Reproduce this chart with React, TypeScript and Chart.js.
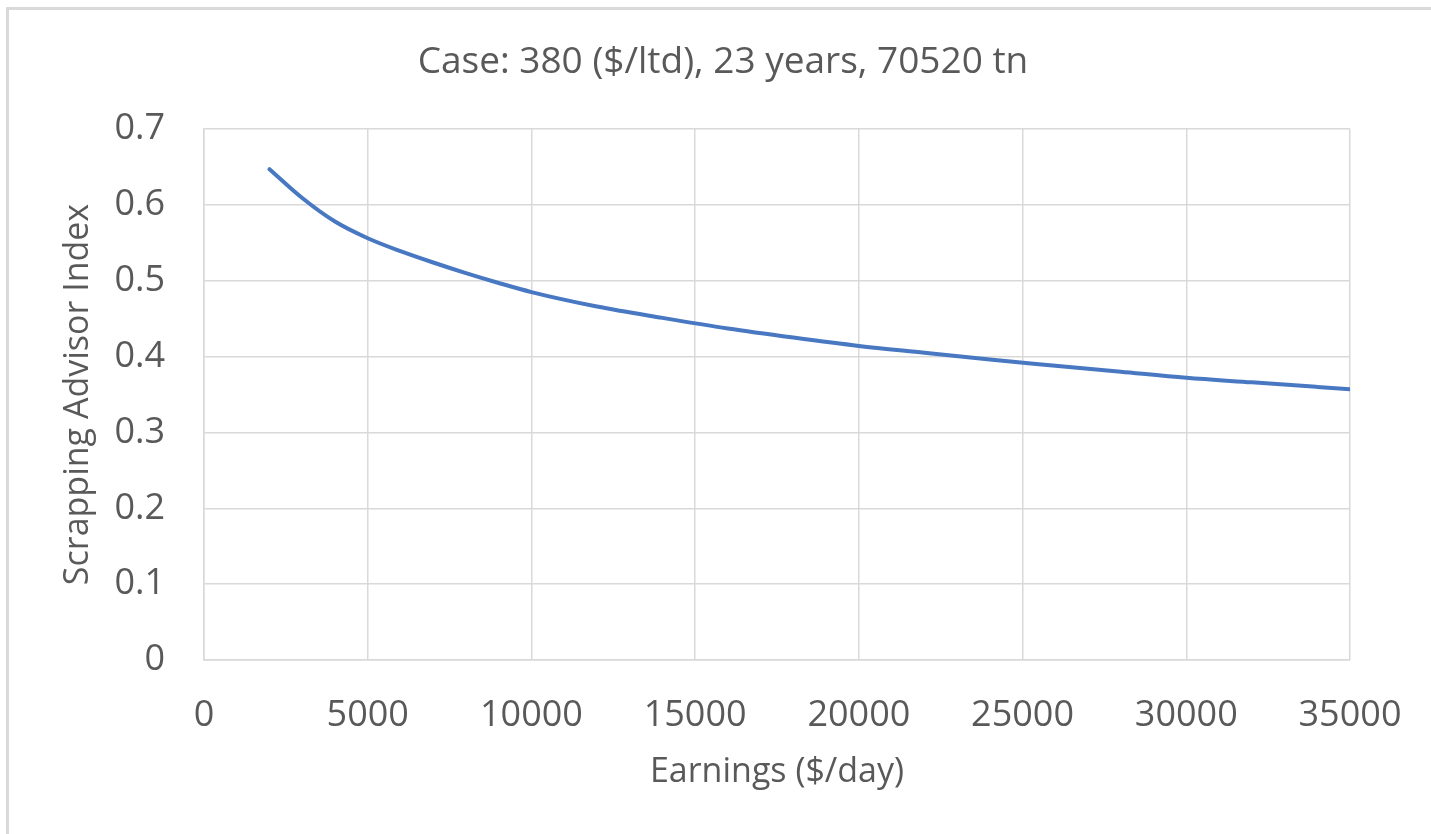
import React, { useEffect, useRef } from "react";
import { Chart, registerables } from "chart.js";

Chart.register(...registerables);

const earnings = [2000, 3000, 4000, 5000, 6000, 7000, 8000, 9000, 10000, 12000, 14000, 16000, 18000, 20000, 22000, 24000, 26000, 28000, 30000, 32000, 34000, 35000];
const indexValues = [0.647, 0.609, 0.578, 0.556, 0.539, 0.524, 0.510, 0.497, 0.485, 0.466, 0.451, 0.437, 0.425, 0.414, 0.405, 0.396, 0.388, 0.380, 0.372, 0.366, 0.360, 0.357];
const yTicks = [0, 0.1, 0.2, 0.3, 0.4, 0.5, 0.6, 0.7];
const xTicks = [0, 5000, 10000, 15000, 20000, 25000, 30000, 35000];
const titleText = "Case: 380 ($/ltd), 23 years, 70520 tn";
const xTitle = "Earnings ($/day)";
const yTitle = "Scrapping Advisor Index";

const FONT = "'Open Sans', sans-serif";
const TEXT = "#595959";
const GRID = "#d9d9d9";

export default function App() {
  const ref = useRef<HTMLCanvasElement>(null);
  useEffect(() => {
    document.body.style.margin = "0";
    document.body.style.overflow = "hidden";
    const chart = new Chart(ref.current!, {
      type: "line",
      data: {
        datasets: [
          {
            data: earnings.map((x, i) => ({ x, y: indexValues[i] })),
            borderColor: "#4878C2",
            borderWidth: 4,
            borderCapStyle: "round",
            pointRadius: 0,
            cubicInterpolationMode: "monotone",
            fill: false,
          },
        ],
      },
      options: {
        animation: false,
        responsive: false,
        layout: { padding: { left: 96, right: 81, top: 0, bottom: 41 } },
        plugins: {
          legend: { display: false },
          tooltip: { enabled: false },
          title: {
            display: true,
            text: titleText,
            color: TEXT,
            font: { family: FONT, size: 37, weight: "normal", lineHeight: 1.2 },
            padding: { top: 40, bottom: 44.6 },
          },
        },
        scales: {
          x: {
            type: "linear",
            min: 0,
            max: 35000,
            afterBuildTicks: (s: any) => {
              s.ticks = xTicks.map((v) => ({ value: v }));
            },
            afterFit: (s: any) => {
              s.height = 133;
              s.paddingRight = 0;
              s.paddingLeft = 0;
            },
            ticks: {
              color: TEXT,
              font: { family: FONT, size: 36 },
              padding: 34,
              maxRotation: 0,
              autoSkip: false,
              callback: (v: any) => String(v),
            },
            grid: { color: GRID, lineWidth: 1.5, drawTicks: false },
            border: { color: GRID, width: 1.5 },
            title: {
              display: true,
              text: xTitle,
              color: TEXT,
              font: { family: FONT, size: 34, lineHeight: 1.2 },
              padding: 0,
            },
          },
          y: {
            type: "linear",
            min: 0,
            max: 0.7,
            afterBuildTicks: (s: any) => {
              s.ticks = yTicks.map((v) => ({ value: v }));
            },
            afterFit: (s: any) => {
              s.width = 108;
              s.paddingTop = 0;
              s.paddingBottom = 0;
            },
            ticks: {
              color: TEXT,
              font: { family: FONT, size: 36 },
              padding: 39,
              autoSkip: false,
              callback: (v: any) => String(Math.round(Number(v) * 10) / 10),
            },
            grid: { color: GRID, lineWidth: 1.5, drawTicks: false },
            border: { color: GRID, width: 1.5 },
            title: {
              display: true,
              text: yTitle,
              color: TEXT,
              font: { family: FONT, size: 34, lineHeight: 1.2 },
              padding: { top: -38.4, bottom: 0 },
            },
          },
        },
      },
    });
    return () => chart.destroy();
  }, []);
  return (
    <div style={{ position: "fixed", left: 0, top: 0, width: 1431, height: 834, background: "#fff", overflow: "hidden" }}>
      <div
        style={{
          position: "absolute",
          left: 6,
          top: 7,
          width: 2000,
          height: 2000,
          borderLeft: "3px solid #d9d9d9",
          borderTop: "3px solid #d9d9d9",
        }}
      />
      <canvas ref={ref} width={1431} height={834} style={{ position: "absolute", left: 0, top: 0 }} />
    </div>
  );
}
